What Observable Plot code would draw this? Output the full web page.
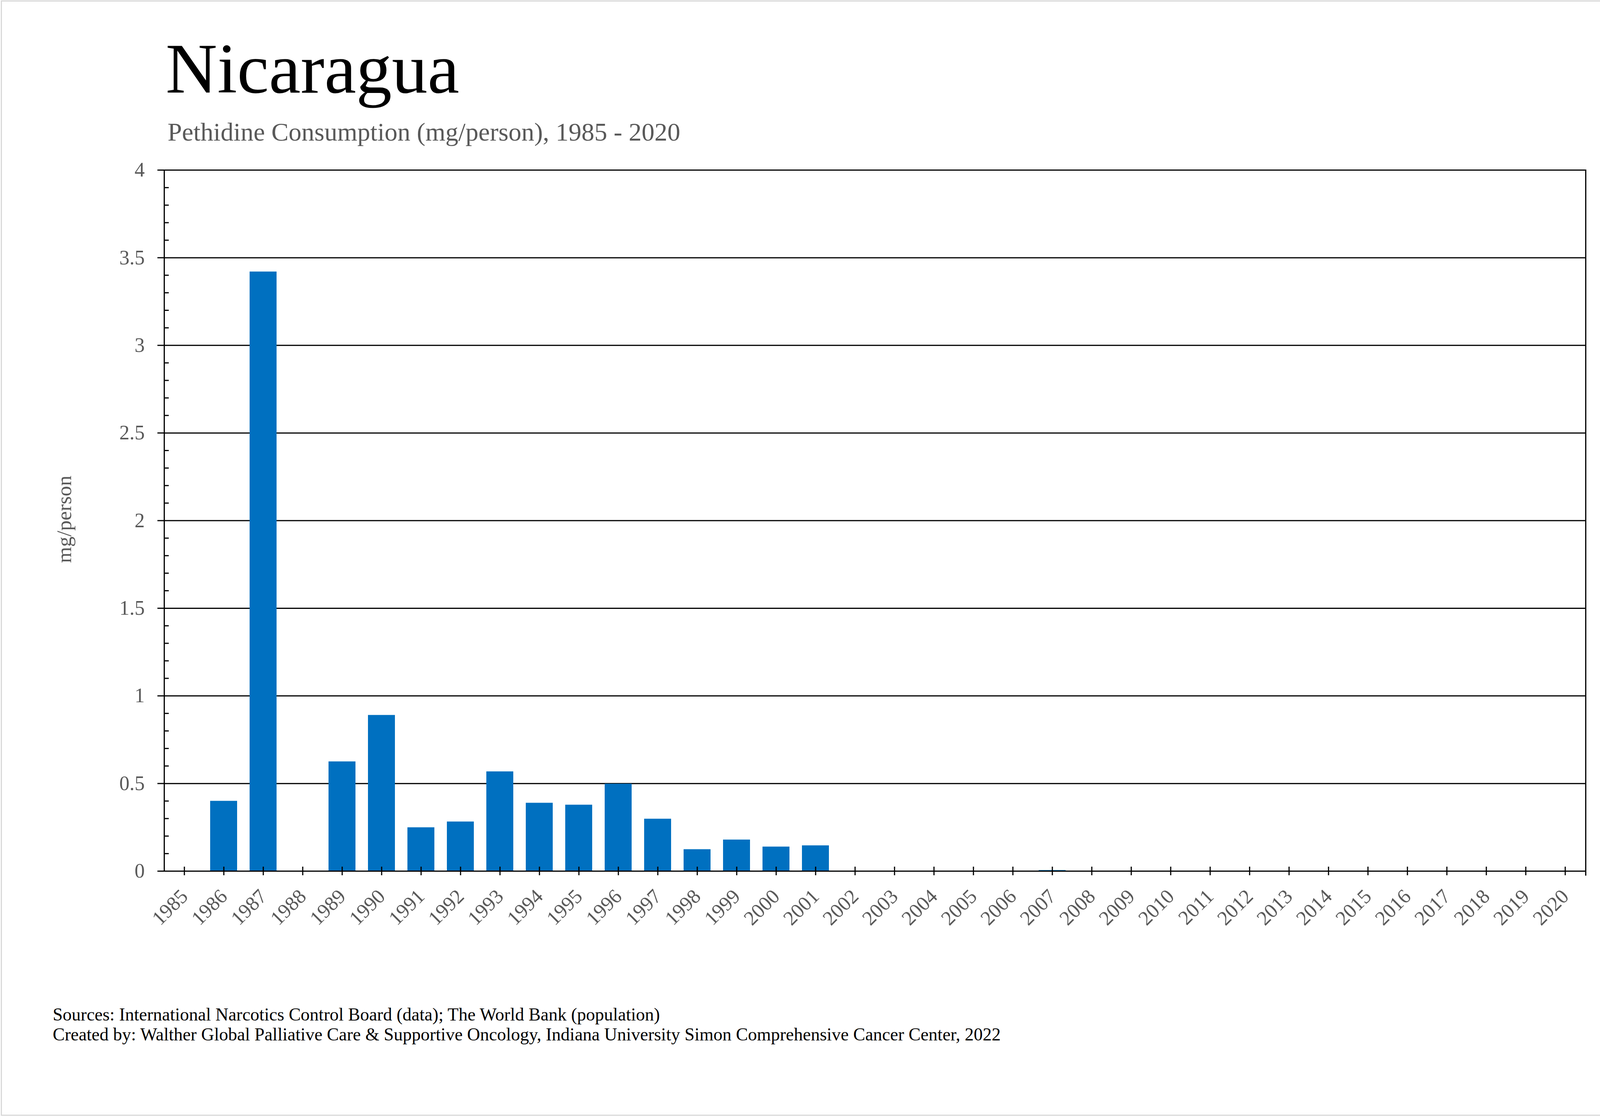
<!DOCTYPE html>
<html><head><meta charset="utf-8">
<script src="https://cdn.jsdelivr.net/npm/d3@7"></script>
<script src="https://cdn.jsdelivr.net/npm/@observablehq/plot@0.6"></script>
<style>
html,body{margin:0;padding:0;background:#fff;}
#page{position:relative;width:4216px;height:2860px;overflow:hidden;font-family:"Liberation Serif","Times New Roman",serif;background:#fff;}
#border{position:absolute;left:2px;top:1px;width:4206px;height:2856px;border:3px solid #d9d9d9;box-sizing:border-box;}
.t{position:absolute;white-space:nowrap;line-height:1;}
#chart{position:absolute;left:0;top:380px;}
</style></head><body>
<div id="page">
<div id="border"></div>
<div class="t" style="left:424px;top:84px;font-size:183px;color:#000">Nicaragua</div>
<div class="t" style="left:429px;top:305px;font-size:66px;color:#595959">Pethidine Consumption (mg/person), 1985 - 2020</div>
<div class="t" style="left:-36px;top:1303px;width:400px;height:53px;text-align:center;font-size:53px;color:#595959;transform:rotate(-90deg)">mg/person</div>
<div id="chart"></div>
<div class="t" style="left:135px;top:2575px;font-size:46px;color:#000">Sources: International Narcotics Control Board (data); The World Bank (population)</div>
<div class="t" style="left:135px;top:2626px;font-size:46px;color:#000">Created by: Walther Global Palliative Care &amp; Supportive Oncology, Indiana University Simon Comprehensive Cancer Center, 2022</div>
</div>
<script>
const years = ["1985","1986","1987","1988","1989","1990","1991","1992","1993","1994","1995","1996",
  "1997","1998","1999","2000","2001","2002","2003","2004","2005","2006","2007","2008",
  "2009","2010","2011","2012","2013","2014","2015","2016","2017","2018","2019","2020"];
const values = [0, 0.40, 3.42, 0, 0.625, 0.89, 0.249, 0.282, 0.568, 0.389, 0.378, 0.498,
  0.298, 0.124, 0.179, 0.139, 0.146, 0, 0, 0, 0, 0, 0.005, 0,
  0, 0, 0, 0, 0, 0, 0, 0, 0, 0, 0, 0];
const yMajorTicks = [0, 0.5, 1, 1.5, 2, 2.5, 3, 3.5, 4];
const yMinorTicks = [0.1,0.2,0.3,0.4,0.6,0.7,0.8,0.9,1.1,1.2,1.3,1.4,1.6,1.7,1.8,1.9,
  2.1,2.2,2.3,2.4,2.6,2.7,2.8,2.9,3.1,3.2,3.3,3.4,3.6,3.7,3.8,3.9];

const data = years.map((year, i) => ({year, value: values[i]}));

const chart = Plot.plot({
  width: 4216,
  height: 2120,
  marginLeft: 420,
  marginRight: 4216 - 4059,
  marginTop: 55,
  marginBottom: 270,
  style: {fontFamily: "Liberation Serif, Times New Roman, serif", background: "transparent", overflow: "visible", color: "#000"},
  x: {type: "band", domain: years, paddingInner: 0.315, paddingOuter: 0.1575, label: null},
  y: {domain: [0, 4], label: null},
  marks: [
    Plot.gridY(yMajorTicks, {stroke: "#000", strokeOpacity: 1, strokeWidth: 3}),
    Plot.barY(data, {x: "year", y: "value", fill: "#0070C0"}),
    Plot.frame({anchor: "bottom", stroke: "#000", strokeWidth: 3}),
    Plot.frame({anchor: "left", stroke: "#000", strokeWidth: 3}),
    Plot.frame({anchor: "right", stroke: "#000", strokeWidth: 3, insetBottom: -10}),
    Plot.axisY(yMajorTicks, {tickSize: 17, tickPadding: 33, fontSize: 52, fill: "#595959", stroke: "#000", strokeWidth: 3, tickFormat: d => String(d)}),
    Plot.axisY(yMinorTicks, {tickSize: 12, dx: 12, stroke: "#000", strokeWidth: 3, tickFormat: () => ""}),
    Plot.axisX(years, {tickSize: 22, dy: -11, stroke: "#000", strokeWidth: 3, tickFormat: () => ""}),
    Plot.axisX(years, {tickSize: 0, tickPadding: 56, tickRotate: -45, fontSize: 52, fill: "#595959"})
  ]
});
document.getElementById("chart").appendChild(chart);
</script>
</body></html>
